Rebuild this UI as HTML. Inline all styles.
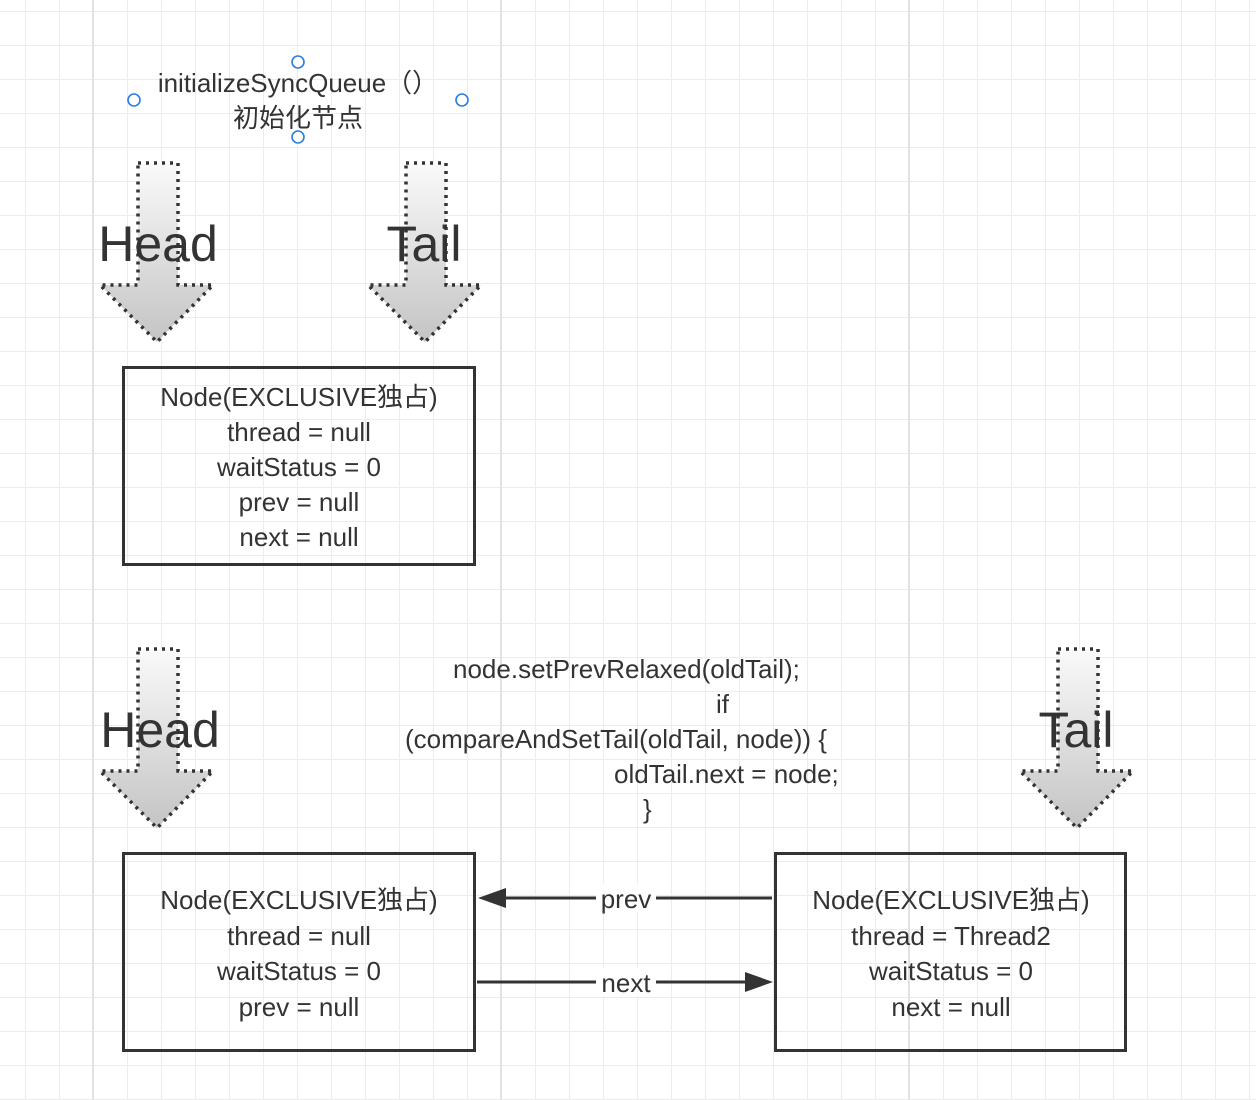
<!DOCTYPE html>
<html><head><meta charset="utf-8"><style>
html,body{margin:0;padding:0}
body{width:1256px;height:1100px;overflow:hidden;background:#fff;position:relative;font-family:"Liberation Sans","Noto Sans CJK SC",sans-serif;color:#333}
.t{position:absolute;text-align:center;white-space:nowrap}
</style></head><body>
<svg width="1256" height="1100" style="position:absolute;left:0;top:0">
<defs>
<pattern id="g" x="25" y="11" width="34" height="34" patternUnits="userSpaceOnUse">
<path d="M0 0V34M0 0H34" stroke="#ececec" stroke-width="2" fill="none"/>
</pattern>
<linearGradient id="ag" x1="0" y1="0" x2="0" y2="1">
<stop offset="0" stop-color="#fafafa"/><stop offset="1" stop-color="#c4c4c4"/>
</linearGradient>
<marker id="ah" markerWidth="10" markerHeight="8" refX="10" refY="4" orient="auto" markerUnits="userSpaceOnUse" viewBox="0 0 10 8"><path d="M0 0L10 4L0 8z" fill="#333"/></marker>
</defs>
<rect width="1256" height="1100" fill="url(#g)"/>
<g stroke="#e2e2e2" stroke-width="2"><path d="M93 0V1100M501 0V1100M909 0V1100"/></g>
<g fill="url(#ag)" stroke="#333" stroke-width="3.5" stroke-dasharray="3,5">
<path d="M138 163H178V285H213L157 342L100 285H138Z"/>
<path d="M406 163H446V285H481L425 342L368 285H406Z"/>
<path d="M138 649H178V771H213L157 828L100 771H138Z"/>
<path d="M1058 649H1098V771H1133L1077 828L1020 771H1058Z"/>
</g>
<g fill="none" stroke="#333" stroke-width="3">
<rect x="123.5" y="367.5" width="351" height="197"/>
<rect x="123.5" y="853.5" width="351" height="197"/>
<rect x="775.5" y="853.5" width="350" height="197"/>
</g>
<g stroke="#333" stroke-width="3">
<line x1="772" y1="898" x2="505" y2="898"/>
<path d="M478 898L506 888V908Z" fill="#333" stroke="none"/>
<line x1="477" y1="982" x2="745" y2="982"/>
<path d="M773 982L745 972V992Z" fill="#333" stroke="none"/>
</g>
<rect x="596" y="884" width="60" height="28" fill="#fff"/>
<rect x="596" y="968" width="60" height="28" fill="#fff"/>
<g fill="#fff" stroke="#2a7de1" stroke-width="1.6">
<circle cx="298" cy="62" r="6"/><circle cx="134" cy="100" r="6"/><circle cx="462" cy="100" r="6"/><circle cx="298" cy="137" r="6"/>
</g>
</svg>
<div class="t" style="left:120px;top:66px;width:356px;font-size:26px;line-height:35px">initializeSyncQueue（）<br>初始化节点</div>
<div class="t" style="left:60px;top:214px;width:196px;font-size:50px;line-height:60px">Head</div>
<div class="t" style="left:326px;top:214px;width:196px;font-size:50px;line-height:60px">Tail</div>
<div class="t" style="left:62px;top:700px;width:196px;font-size:50px;line-height:60px">Head</div>
<div class="t" style="left:978px;top:700px;width:196px;font-size:50px;line-height:60px">Tail</div>
<div class="t" style="left:124px;top:380px;width:350px;font-size:26px;line-height:35px">Node(EXCLUSIVE独占)<br>thread = null<br>waitStatus = 0<br>prev = null<br>next = null</div>
<div class="t" style="left:124px;top:883px;width:350px;font-size:26px;line-height:35.5px">Node(EXCLUSIVE独占)<br>thread = null<br>waitStatus = 0<br>prev = null</div>
<div class="t" style="left:776px;top:883px;width:350px;font-size:26px;line-height:35.5px">Node(EXCLUSIVE独占)<br>thread = Thread2<br>waitStatus = 0<br>next = null</div>
<div class="t" style="left:596px;top:882px;width:60px;font-size:26px;line-height:34px">prev</div>
<div class="t" style="left:596px;top:966px;width:60px;font-size:26px;line-height:34px">next</div>
<div class="t" style="left:400px;top:652px;width:500px;font-size:26px;line-height:35px">
<div style="position:absolute;left:53px;top:0">node.setPrevRelaxed(oldTail);</div>
<div style="position:absolute;left:316px;top:35px">if</div>
<div style="position:absolute;left:5px;top:70px">(compareAndSetTail(oldTail, node)) {</div>
<div style="position:absolute;left:214px;top:105px">oldTail.next = node;</div>
<div style="position:absolute;left:243px;top:140px">}</div>
</div>
</body></html>
